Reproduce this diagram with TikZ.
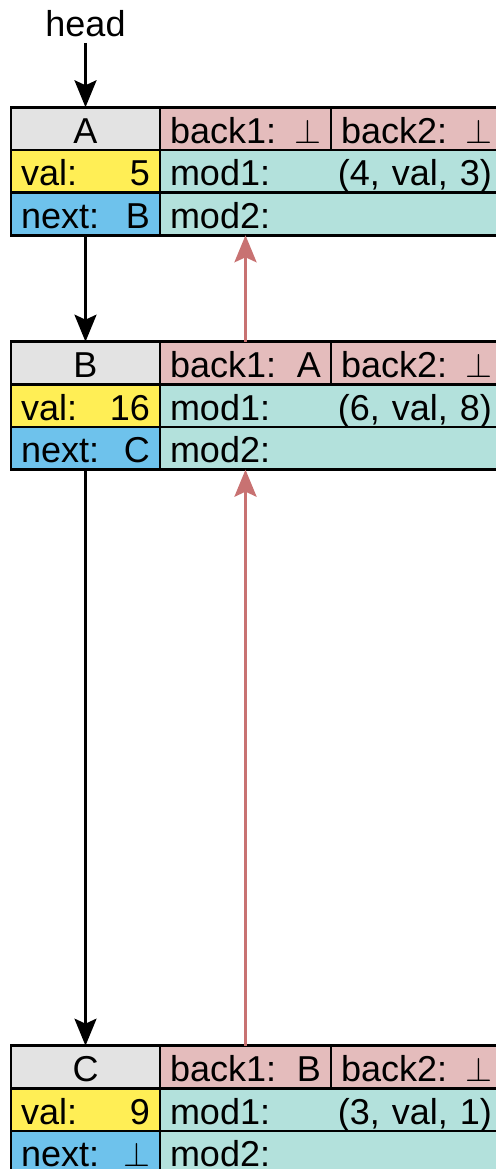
\documentclass[tikz,border=0pt]{standalone}
\usepackage{fontspec}
\setmainfont{Liberation Sans}
\usetikzlibrary{arrows.meta,positioning}

\definecolor{namegray}{HTML}{E3E3E3}
\definecolor{backpink}{HTML}{E4BCBC}
\definecolor{modteal}{HTML}{B3E1DC}
\definecolor{valyellow}{HTML}{FFEE55}
\definecolor{nextblue}{HTML}{6EC2EC}
\definecolor{backred}{HTML}{C87272}

\tikzset{
  cell/.style={draw,line width=1.3pt,inner sep=0pt,outer sep=0pt,
    minimum height=21.33pt,text height=14.5pt,text depth=0pt},
  namebox/.style={cell,fill=namegray,minimum width=74.5pt},
  valbox/.style={cell,fill=valyellow,inner xsep=5pt,text width=64.5pt},
  nextbox/.style={cell,fill=nextblue,inner xsep=5pt,text width=64.5pt},
  backbox/.style={cell,fill=backpink,inner xsep=5pt,text width=75.5pt},
  modbox/.style={cell,fill=modteal,inner xsep=5pt,text width=161pt},
  ptr/.style={-{Stealth[length=13.5pt,width=11pt,inset=2.5pt]},line width=1.4pt},
  backptr/.style={ptr,draw=backred,fill=backred,line width=1.6pt}
}

\begin{document}
\begin{tikzpicture}[x=0.5pt,y=-0.5pt,font=\fontsize{18}{21}\selectfont]
  \path[use as bounding box,clip] (0,0) rectangle (496,1169);
  \node[inner sep=3pt,anchor=base] (head) at (85.5,36) {head};
  % record A
  \node[namebox] (A) at (85.5,128.6) {A};
  \node[backbox,right=0pt of A] (A-b1) {back1:\hfill$\bot$};
  \node[backbox,right=0pt of A-b1] (A-b2) {back2:\hfill$\bot$};
  \node[valbox,below=0pt of A] (A-val) {val:\hfill 5};
  \node[modbox,right=0pt of A-val] (A-m1) {mod1:\hfill(4, val, 3)};
  \node[nextbox,below=0pt of A-val] (A-nx) {next:\hfill B};
  \node[modbox,right=0pt of A-nx] (A-m2) {mod2:};
  % record B
  \node[namebox] (B) at (85.5,363) {B};
  \node[backbox,right=0pt of B] (B-b1) {back1:\hfill A};
  \node[backbox,right=0pt of B-b1] (B-b2) {back2:\hfill$\bot$};
  \node[valbox,below=0pt of B] (B-val) {val:\hfill 16};
  \node[modbox,right=0pt of B-val] (B-m1) {mod1:\hfill(6, val, 8)};
  \node[nextbox,below=0pt of B-val] (B-nx) {next:\hfill C};
  \node[modbox,right=0pt of B-nx] (B-m2) {mod2:};
  % record C
  \node[namebox] (C) at (85.5,1067) {C};
  \node[backbox,right=0pt of C] (C-b1) {back1:\hfill B};
  \node[backbox,right=0pt of C-b1] (C-b2) {back2:\hfill$\bot$};
  \node[valbox,below=0pt of C] (C-val) {val:\hfill 9};
  \node[modbox,right=0pt of C-val] (C-m1) {mod1:\hfill(3, val, 1)};
  \node[nextbox,below=0pt of C-val] (C-nx) {next:\hfill$\bot$};
  \node[modbox,right=0pt of C-nx] (C-m2) {mod2:};
  % next pointers
  \draw[ptr] (head.south) -- (A.north);
  \draw[ptr] (A-nx.south) -- (B.north);
  \draw[ptr] (B-nx.south) -- (C.north);
  % back pointers
  \draw[backptr] (B-b1.north) -- (B-b1.north |- A-m2.south);
  \draw[backptr] (C-b1.north) -- (C-b1.north |- B-m2.south);
\end{tikzpicture}
\end{document}
